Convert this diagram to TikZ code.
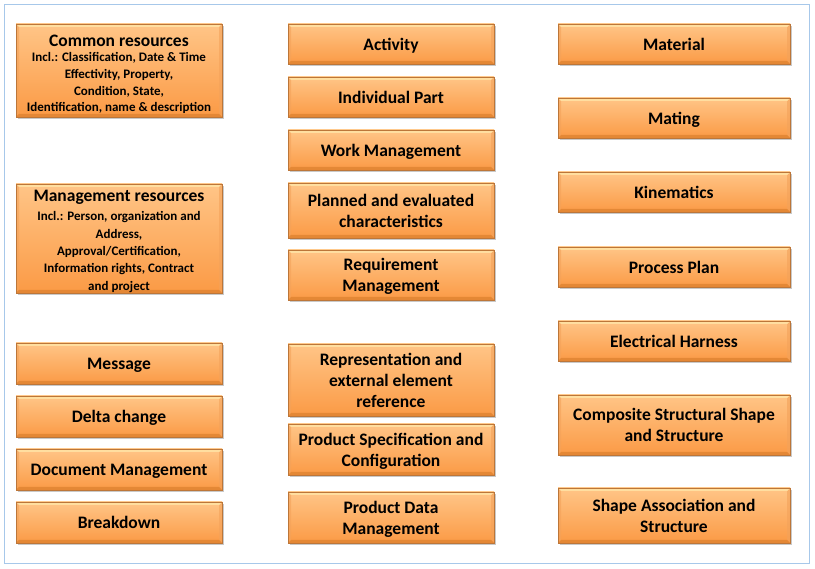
\documentclass[tikz,border=0pt]{standalone}
\usepackage{fontspec}
\setmainfont{Carlito}
\usetikzlibrary{shadows}
\definecolor{boxtop}{HTML}{FFC587}
\definecolor{boxbot}{HTML}{FB9A45}
\definecolor{boxline}{HTML}{BC7639}
\definecolor{bevlight}{HTML}{FFE2A4}
\definecolor{bevdark}{HTML}{DF8331}
\definecolor{bevside}{HTML}{F3A25A}
\definecolor{framecol}{HTML}{A7C8EA}
\tikzset{
  module/.style={rectangle, inner sep=0pt, align=center,
    top color=boxtop, bottom color=boxbot, draw=boxline, line width=0.7pt,
    font=\bfseries\fontsize{17.5}{21}\selectfont, text depth=0pt,
    drop shadow={shadow xshift=1.5pt, shadow yshift=-2.5pt, opacity=0.35, fill=black!60},
    path picture={
      \coordinate (bnw) at (path picture bounding box.north west);
      \coordinate (bne) at (path picture bounding box.north east);
      \coordinate (bsw) at (path picture bounding box.south west);
      \coordinate (bse) at (path picture bounding box.south east);
      \fill[bevside, opacity=0.6] (bnw) -- ([shift={(3pt,-3pt)}]bnw) -- ([shift={(3pt,3pt)}]bsw) -- (bsw) -- cycle;
      \fill[bevside, opacity=0.6] (bne) -- ([shift={(-3pt,-3pt)}]bne) -- ([shift={(-3pt,3pt)}]bse) -- (bse) -- cycle;
      \fill[bevlight, opacity=0.9] (bnw) -- (bne) -- ([shift={(-3pt,-3pt)}]bne) -- ([shift={(3pt,-3pt)}]bnw) -- cycle;
      \fill[bevdark, opacity=0.8] (bsw) -- (bse) -- ([shift={(-3pt,3pt)}]bse) -- ([shift={(3pt,3pt)}]bsw) -- cycle;
    }},
  leftcol/.style={module, minimum width=206pt},
  midcol/.style={module, minimum width=206pt},
  rightcol/.style={module, minimum width=232pt},
  boxtext/.style={align=center, inner sep=0pt, font=\bfseries\fontsize{17.5}{21}\selectfont},
}
% smaller detail lines under a box title
\newcommand{\detail}[2]{\fontsize{13}{#1}\selectfont\begin{tabular}[t]{@{}c@{}}#2\end{tabular}}
\begin{document}
\begin{tikzpicture}[x=1pt,y=-1pt]
  \useasboundingbox (0,0) rectangle (815,569);
  \fill[white] (0,0) rectangle (815,569);
  \draw[framecol, line width=1pt] (4,5) rectangle (809,564);

  % left column
  \node[leftcol, minimum height=93pt] (common) at (119,70.5) {};
  \node[boxtext] (commontext) at (119,76)
    {Common resources\\[-6pt]\detail{16.6}{Incl.: Classification, Date \& Time\\Effectivity, Property,\\Condition, State,\\Identification, name \& description}};
  \node[leftcol, minimum height=109pt] (mgmtres) at (119,238.5) {};
  \node[boxtext] (mgmttext) at (119,243)
    {Management resources\\[-2pt]\detail{17.3}{Incl.: Person, organization and\\Address,\\Approval/Certification,\\Information rights, Contract\\and project}};
  \node[leftcol, minimum height=41pt] (message) at (119,363.5) {Message};
  \node[leftcol, minimum height=41pt] (delta) at (119,416.5) {Delta change};
  \node[leftcol, minimum height=41pt] (docmgmt) at (119,469.5) {Document Management};
  \node[leftcol, minimum height=41pt] (breakdown) at (119,522.5) {Breakdown};

  % middle column
  \node[midcol, minimum height=40pt] (activity) at (391,44) {Activity};
  \node[midcol, minimum height=40pt] (indpart) at (391,97) {Individual Part};
  \node[midcol, minimum height=40pt] (workmgmt) at (391,150) {Work Management};
  \node[midcol, minimum height=55pt] (planned) at (391,210.5) {Planned and evaluated\\characteristics};
  \node[midcol, minimum height=50pt] (reqmgmt) at (391,275) {Requirement\\Management};
  \node[midcol, minimum height=72pt] (repr) at (391,380) {Representation and\\external element\\reference};
  \node[midcol, minimum height=51pt] (prodspec) at (391,449.5) {Product Specification and\\Configuration};
  \node[midcol, minimum height=51pt] (pdm) at (391,517.5) {Product Data\\Management};

  % right column
  \node[rightcol, minimum height=40pt] (material) at (674,44) {Material};
  \node[rightcol, minimum height=40pt] (mating) at (674,118) {Mating};
  \node[rightcol, minimum height=40pt] (kinematics) at (674,192) {Kinematics};
  \node[rightcol, minimum height=40pt] (procplan) at (674,267) {Process Plan};
  \node[rightcol, minimum height=40pt] (harness) at (674,341) {Electrical Harness};
  \node[rightcol, minimum height=60pt] (composite) at (674,425) {Composite Structural Shape\\and Structure};
  \node[rightcol, minimum height=55pt] (shapeassoc) at (674,515.5) {Shape Association and\\Structure};
\end{tikzpicture}
\end{document}
